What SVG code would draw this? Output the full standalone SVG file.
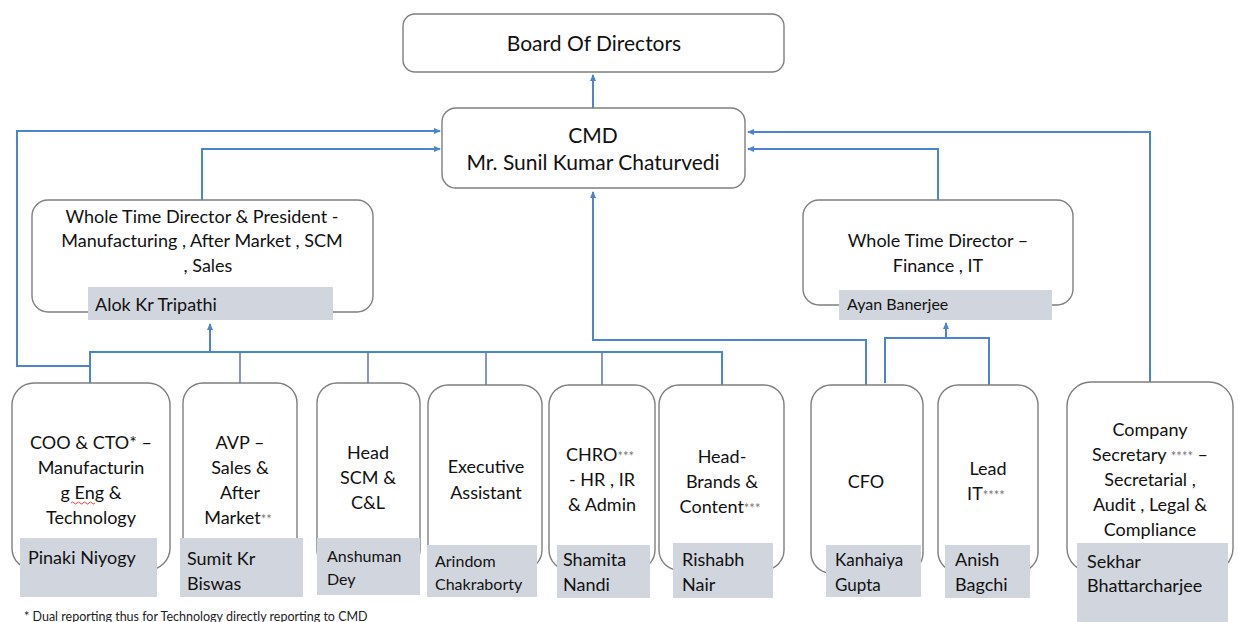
<svg xmlns="http://www.w3.org/2000/svg" width="1238" height="622" viewBox="0 0 1238 622">
<defs>
<marker id="arr" markerWidth="8" markerHeight="8" refX="6" refY="4" orient="auto" markerUnits="userSpaceOnUse">
<path d="M0,1 L7,4 L0,7 Z" fill="#4a86cf"/>
</marker>
<style>
.box{fill:#ffffff;stroke:#7f7f7f;stroke-width:1.4}
.nm{fill:#d1d6de}
.t{font-family:Lato,"Liberation Sans",sans-serif;font-size:18px;fill:#111;text-anchor:middle}
.n{font-family:Lato,"Liberation Sans",sans-serif;font-size:18px;fill:#111}
.big{font-size:21px}
.st{font-size:13px;fill:#777}
.c{fill:none;stroke:#4a86cf;stroke-width:2}
.d{fill:none;stroke:#6a7cb4;stroke-width:1.6}
.fn{font-family:Lato,"Liberation Sans",sans-serif;font-size:12.5px;fill:#222}
</style>
</defs>
<rect width="1238" height="622" fill="#ffffff"/>

<g id="connectors">
<path class="c" d="M593,108 V75" marker-end="url(#arr)"/>
<path class="c" d="M90,366 H17 V131 H440" marker-end="url(#arr)"/>
<path class="c" d="M202,200 V149 H440" marker-end="url(#arr)"/>
<path class="c" d="M90,383 V352 H722 V385"/>
<path class="d" d="M240,352 V384 M368,352 V384 M486,352 V385 M602,352 V385"/>
<path class="c" d="M210,352 V324" marker-end="url(#arr)"/>
<path class="c" d="M866,385 V340 H593 V192" marker-end="url(#arr)"/>
<path class="c" d="M885,383 V338 H989 V385"/>
<path class="c" d="M946,338 V323" marker-end="url(#arr)"/>
<path class="c" d="M938,200 V149 H748" marker-end="url(#arr)"/>
<path class="c" d="M1150,382 V132 H748" marker-end="url(#arr)"/>
</g>

<g id="board">
<rect class="box" x="403" y="14" width="381" height="58" rx="12"/>
<text class="t big" x="594" y="51">Board Of Directors</text>
</g>

<g id="cmd">
<rect class="box" x="442" y="108" width="303" height="80" rx="14"/>
<text class="t big" x="593" y="143">CMD</text>
<text class="t big" x="593" y="170">Mr. Sunil Kumar Chaturvedi</text>
</g>

<g id="wtd-president">
<rect class="box" x="32" y="200" width="341" height="112" rx="16"/>
<text class="t" x="202" y="223">Whole Time Director &amp; President -</text>
<text class="t" x="202" y="247">Manufacturing , After Market , SCM</text>
<text class="t" x="208" y="272">, Sales</text>
<rect class="nm" x="88" y="287" width="245" height="33"/>
<text class="n" x="95" y="311">Alok Kr Tripathi</text>
</g>

<g id="wtd-finance">
<rect class="box" x="803" y="200" width="270" height="105" rx="16"/>
<text class="t" x="938" y="247">Whole Time Director –</text>
<text class="t" x="938" y="272">Finance , IT</text>
<rect class="nm" x="839" y="290" width="213" height="30"/>
<text class="n" x="847" y="310" style="font-size:16px">Ayan Banerjee</text>
</g>

<g id="coo">
<rect class="box" x="12" y="383" width="158" height="187" rx="22"/>
<text class="t" x="91" y="449">COO &amp; CTO* –</text>
<text class="t" x="91" y="474">Manufacturin</text>
<text class="t" x="91" y="499">g Eng &amp;</text>
<text class="t" x="91" y="524">Technology</text>
<path d="M71,503 q1.5,-2 3,0 t3,0 t3,0 t3,0 t3,0 t3,0 t3,0 t3,0" fill="none" stroke="#e03030" stroke-width="0.9"/>
<rect class="nm" x="20" y="538" width="137" height="59"/>
<text class="n" x="28" y="564">Pinaki Niyogy</text>
</g>

<g id="avp">
<rect class="box" x="183" y="383" width="114" height="187" rx="20"/>
<text class="t" x="240" y="449">AVP –</text>
<text class="t" x="240" y="474">Sales &amp;</text>
<text class="t" x="240" y="499">After</text>
<text class="t" x="238" y="524">Market<tspan class="st">**</tspan></text>
<rect class="nm" x="180" y="538" width="123" height="59"/>
<text class="n" x="187" y="565">Sumit Kr</text>
<text class="n" x="187" y="590">Biswas</text>
</g>

<g id="scm">
<rect class="box" x="317" y="383" width="103" height="187" rx="20"/>
<text class="t" x="368" y="459">Head</text>
<text class="t" x="368" y="484">SCM &amp;</text>
<text class="t" x="368" y="509">C&amp;L</text>
<rect class="nm" x="317" y="538" width="103" height="57"/>
<text class="n" x="327" y="562" style="font-size:16px">Anshuman</text>
<text class="n" x="327" y="585" style="font-size:16px">Dey</text>
</g>

<g id="exec">
<rect class="box" x="428" y="385" width="114" height="185" rx="20"/>
<text class="t" x="486" y="473">Executive</text>
<text class="t" x="486" y="499">Assistant</text>
<rect class="nm" x="427" y="545" width="110" height="52"/>
<text class="n" x="435" y="567" style="font-size:16px">Arindom</text>
<text class="n" x="435" y="590" style="font-size:16px">Chakraborty</text>
</g>

<g id="chro">
<rect class="box" x="549" y="385" width="106" height="185" rx="20"/>
<text class="t" x="600" y="461">CHRO<tspan class="st">***</tspan></text>
<text class="t" x="602" y="486">- HR , IR</text>
<text class="t" x="602" y="511">&amp; Admin</text>
<rect class="nm" x="557" y="545" width="93" height="53"/>
<text class="n" x="563" y="566">Shamita</text>
<text class="n" x="563" y="591">Nandi</text>
</g>

<g id="brands">
<rect class="box" x="659" y="385" width="125" height="185" rx="20"/>
<text class="t" x="722" y="463">Head-</text>
<text class="t" x="722" y="488">Brands &amp;</text>
<text class="t" x="720" y="513">Content<tspan class="st">***</tspan></text>
<rect class="nm" x="673" y="543" width="100" height="55"/>
<text class="n" x="682" y="566">Rishabh</text>
<text class="n" x="682" y="591">Nair</text>
</g>

<g id="cfo">
<rect class="box" x="811" y="385" width="112" height="188" rx="20"/>
<text class="t" x="866" y="488">CFO</text>
<rect class="nm" x="826" y="545" width="95" height="52"/>
<text class="n" x="835" y="566" style="font-size:17px">Kanhaiya</text>
<text class="n" x="835" y="591" style="font-size:17px">Gupta</text>
</g>

<g id="leadit">
<rect class="box" x="938" y="385" width="100" height="187" rx="20"/>
<text class="t" x="988" y="475">Lead</text>
<text class="t" x="986" y="500">IT<tspan class="st">****</tspan></text>
<rect class="nm" x="945" y="545" width="85" height="53"/>
<text class="n" x="955" y="566">Anish</text>
<text class="n" x="955" y="591">Bagchi</text>
</g>

<g id="cs">
<rect class="box" x="1067" y="382" width="166" height="190" rx="24"/>
<text class="t" x="1150" y="436">Company</text>
<text class="t" x="1150" y="461">Secretary <tspan class="st">****</tspan> –</text>
<text class="t" x="1150" y="486">Secretarial ,</text>
<text class="t" x="1150" y="511">Audit , Legal &amp;</text>
<text class="t" x="1150" y="536">Compliance</text>
<rect class="nm" x="1077" y="543" width="151" height="79"/>
<text class="n" x="1087" y="568">Sekhar</text>
<text class="n" x="1087" y="592">Bhattarcharjee</text>
</g>

<text class="fn" x="24" y="621">* Dual reporting thus for Technology directly reporting to CMD</text>
</svg>
